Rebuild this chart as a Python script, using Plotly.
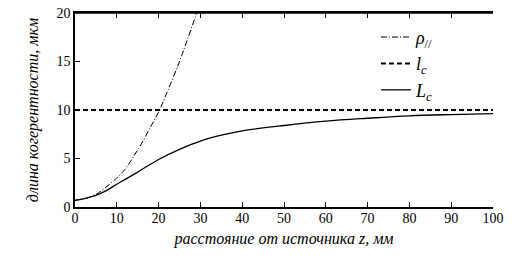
import plotly.graph_objects as go

# rho_parallel (dash-dot)
z_rho = [0, 3, 5, 7, 10, 12, 14, 16, 18, 20, 22, 25, 27, 29.1, 30]
rho = [0.7, 0.95, 1.3, 1.9, 3.0, 3.9, 5.2, 6.6, 8.2, 9.8, 11.8, 15.0, 17.4, 20.0, 21.2]

# l_c (dashed, constant)
z_l = [0, 100]
l_c = [10, 10]

# L_c (solid)
z_L = [0, 2, 5, 7, 10, 12, 15, 20, 25, 30, 35, 40, 50, 60, 70, 80, 90, 100]
L_c = [0.68, 0.85, 1.2, 1.58, 2.35, 2.85, 3.6, 4.9, 5.95, 6.8, 7.4, 7.85, 8.4, 8.85, 9.15, 9.4, 9.53, 9.62]

x_ticks = [0, 10, 20, 30, 40, 50, 60, 70, 80, 90, 100]
y_ticks = [0, 5, 10, 15, 20]

font_family = "Liberation Serif"

fig = go.Figure()
fig.add_trace(go.Scatter(x=z_rho, y=rho, mode="lines", line_shape="spline",
                         line=dict(color="black", width=1, dash="6px,2px,1px,2px"),
                         name="<i>ρ</i><sub>//</sub>"))
fig.add_trace(go.Scatter(x=z_l, y=l_c, mode="lines",
                         line=dict(color="black", width=2, dash="5px,3px"),
                         name="<i>l<sub>c</sub></i>"))
fig.add_trace(go.Scatter(x=z_L, y=L_c, mode="lines", line_shape="spline",
                         line=dict(color="black", width=1.3),
                         name="<i>L<sub>c</sub></i>"))
# invisible helper trace so the top (mirror) axis is drawn
fig.add_trace(go.Scatter(x=z_l, y=l_c, mode="lines", xaxis="x2",
                         line=dict(color="rgba(0,0,0,0)", width=0),
                         showlegend=False, hoverinfo="skip"))

fig.update_layout(
    width=523, height=267,
    margin=dict(l=75, r=30, t=13, b=60),
    paper_bgcolor="white", plot_bgcolor="white",
    font=dict(family=font_family, size=14, color="black"),
    showlegend=True,
    legend=dict(x=0.72, y=0.97, xanchor="left", yanchor="top",
                bgcolor="rgba(0,0,0,0)", font=dict(size=18, family=font_family),
                itemwidth=30, tracegroupgap=0, traceorder="normal"),
    xaxis=dict(range=[0, 100], tickvals=x_ticks, ticks="inside", ticklen=5,
               tickcolor="black", tickwidth=1, ticklabelstandoff=-3,
               showline=True, linecolor="black", linewidth=1.5, mirror=False,
               showgrid=False, zeroline=False, tickfont=dict(size=14),
               automargin=False,
               title=dict(text="<i>расстояние от источника z, мм</i>",
                          font=dict(size=16), standoff=8)),
    xaxis2=dict(range=[0, 100], tickvals=x_ticks, ticks="inside", ticklen=5,
                tickcolor="black", tickwidth=1, overlaying="x", side="top",
                showticklabels=False, showline=True, linecolor="black",
                linewidth=1.5, showgrid=False, zeroline=False, automargin=False),
    yaxis=dict(range=[0, 20], tickvals=y_ticks, ticks="inside", ticklen=5,
               tickcolor="black", tickwidth=1,
               showline=True, linecolor="black", linewidth=1.5, mirror=False,
               showgrid=False, zeroline=False, tickfont=dict(size=14),
               automargin=False,
               title=dict(text="<i>длина когерентности, мкм</i>",
                          font=dict(size=16, color="black"), standoff=14)),
    shapes=[dict(type="line", xref="paper", yref="paper", x0=0, x1=1, y0=1, y1=1,
                 line=dict(color="black", width=1.5), layer="above")],
)

fig.write_html("out.html",
               config={"displayModeBar": False},
               post_script="document.body.style.margin='0';document.body.style.overflow='hidden';")
